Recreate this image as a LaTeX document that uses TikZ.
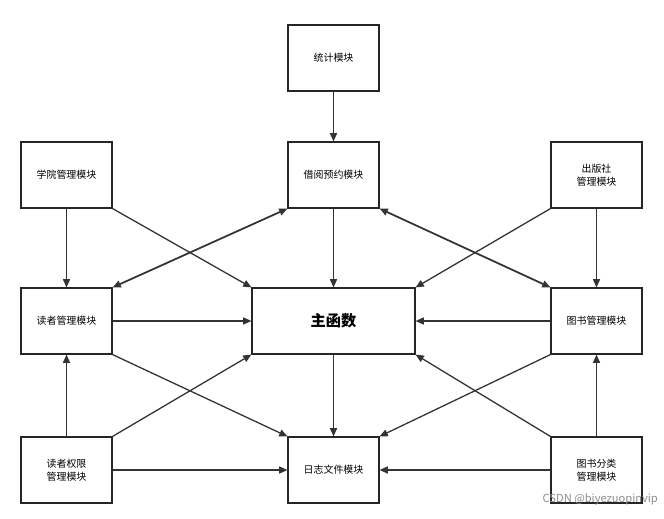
\documentclass[tikz,border=0pt]{standalone}
\usepackage{fontspec}
\setmainfont{Noto Sans CJK SC}
\usetikzlibrary{arrows.meta}
\begin{document}
\begin{tikzpicture}[x=0.03cm,y=-0.03cm,
  box/.style={draw=black!85,line width=1pt,minimum width=2.73cm,minimum height=1.98cm,align=center,font=\fontsize{8.5}{11}\selectfont,inner sep=0pt},
  ar/.style={-{Triangle[length=7pt,width=6pt]},line width=1.1pt,draw=black!80},
  dar/.style={{Triangle[length=7pt,width=6pt]}-{Triangle[length=7pt,width=6pt]},line width=1.5pt,draw=black!80}]
\useasboundingbox (0,0) rectangle (664,518);
\node[box] (tj) at (333.5,58) {统计模块};
\node[box] (jy) at (333.5,175) {借阅预约模块};
\node[box] (xy) at (66.5,175) {学院管理模块};
\node[box] (cb) at (596.5,175) {出版社\\管理模块};
\node[box] (dz) at (66.5,321) {读者管理模块};
\node[box,minimum width=4.89cm,font=\bfseries\fontsize{13}{15}\selectfont] (main) at (333.5,321) {主函数};
\node[box] (ts) at (596.5,321) {图书管理模块};
\node[box] (qx) at (66.5,470) {读者权限\\管理模块};
\node[box] (rz) at (333.5,470) {日志文件模块};
\node[box] (fl) at (596.5,470) {图书分类\\管理模块};
\node[font=\fontsize{9.5}{11}\selectfont,text=black!45,anchor=east] (wm) at (662,499) {CSDN @biyezuopinvip};
\draw[ar] (tj) -- (jy);
\draw[ar] (jy) -- (main);
\draw[ar] (main) -- (rz);
\draw[ar] (xy) -- (dz);
\draw[ar] (xy.south east) -- (main.north west);
\draw[ar] (cb) -- (ts);
\draw[ar] (cb.south west) -- (main.north east);
\draw[ar] (dz) -- (main);
\draw[ar] (ts) -- (main);
\draw[dar] (dz.north east) -- (jy.south west);
\draw[dar] (jy.south east) -- (ts.north west);
\draw[ar] (dz.south east) -- (rz.north west);
\draw[ar] (ts.south west) -- (rz.north east);
\draw[ar] (qx) -- (dz);
\draw[ar] (qx.north east) -- (main.south west);
\draw[ar] (qx) -- (rz);
\draw[ar] (fl) -- (ts);
\draw[ar] (fl.north west) -- (main.south east);
\draw[ar] (fl) -- (rz);
\end{tikzpicture}
\end{document}
